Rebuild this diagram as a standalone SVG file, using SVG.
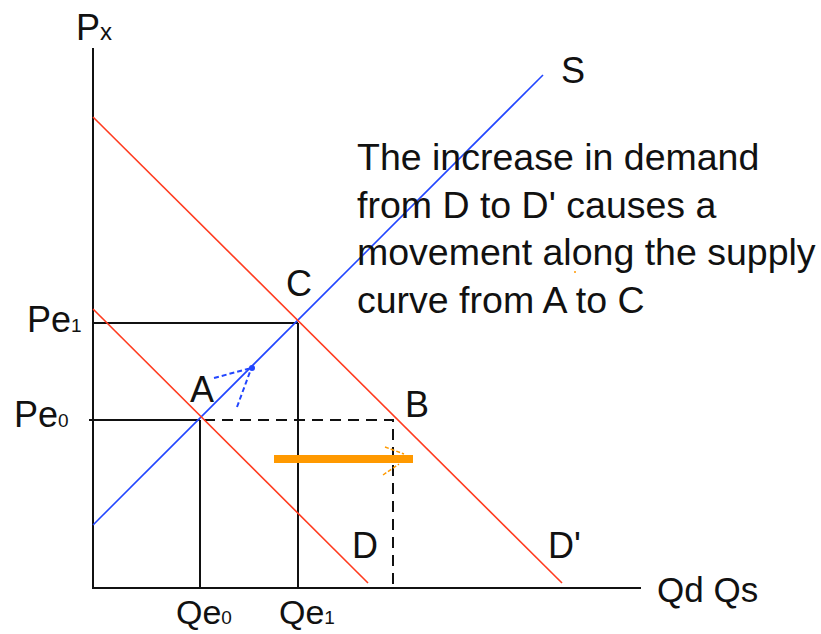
<svg xmlns="http://www.w3.org/2000/svg" width="821" height="634" viewBox="0 0 821 634">
<style>
.t{font-family:"Liberation Sans",Arial,sans-serif;fill:#111;font-size:36px}
.sub{font-size:19px}
.ax{stroke:#111;stroke-width:2;fill:none}
.dash{stroke:#111;stroke-width:2;fill:none;stroke-dasharray:11 7}
.red{stroke:#ff3b1f;stroke-width:1.6;fill:none}
.blue{stroke:#2246ff;stroke-width:1.6;fill:none}
.note{font-size:37.5px}
</style>
<rect width="821" height="634" fill="#fff"/>
<g id="axes">
<line class="ax" x1="93" y1="48" x2="93" y2="589"/>
<line class="ax" x1="92" y1="588" x2="641" y2="588"/>
<text class="t" x="76" y="40">P<tspan style="font-size:24px">x</tspan></text>
<text class="t" x="657" y="602" style="font-size:35px">Qd Qs</text>
</g>
<g id="guides">
<line class="ax" x1="93" y1="323" x2="298" y2="323"/>
<line class="ax" x1="298" y1="323" x2="298" y2="588"/>
<line class="ax" x1="89" y1="420" x2="200" y2="420"/>
<line class="ax" x1="200" y1="420" x2="200" y2="588"/>
<path class="dash" d="M204 420 H393 V588"/>
<text class="t" x="27" y="332">Pe<tspan class="sub">1</tspan></text>
<text class="t" x="14" y="427">Pe<tspan class="sub">0</tspan></text>
<text class="t" x="176" y="624" style="font-size:34px">Qe<tspan class="sub">0</tspan></text>
<text class="t" x="279" y="624" style="font-size:34px">Qe<tspan class="sub">1</tspan></text>
</g>
<g id="supply">
<line class="blue" x1="93" y1="525" x2="543" y2="75"/>
<text class="t" x="561" y="83">S</text>
</g>
<g id="demand-D">
<line class="red" x1="93" y1="309" x2="368" y2="583"/>
<text class="t" x="352" y="558">D</text>
</g>
<g id="demand-D2">
<line class="red" x1="93" y1="117" x2="562" y2="583"/>
<text class="t" x="548" y="558">D'</text>
</g>
<g id="points">
<text class="t" x="190" y="402">A</text>
<text class="t" x="286" y="296">C</text>
<text class="t" x="405" y="417">B</text>
</g>
<g id="connectors">
<g id="move-arrow" stroke="#2246ff" stroke-width="2" stroke-dasharray="5 3" fill="none">
<line x1="214" y1="378" x2="251" y2="368"/>
<line x1="237" y1="407" x2="251" y2="369"/>
</g>
<circle cx="252" cy="368" r="3" fill="#2246ff"/>
<line x1="274" y1="459" x2="413" y2="459" stroke="#ff9900" stroke-width="8"/>
<g stroke="#ff9900" stroke-width="1.5" stroke-dasharray="4 2" fill="none">
<line x1="385" y1="447" x2="404" y2="454"/>
<line x1="383" y1="475" x2="399" y2="464"/>
</g>
</g>
<g id="note">
<text class="t note" x="357" y="170">The increase in demand</text>
<text class="t note" x="357" y="218">from D to D' causes a</text>
<text class="t note" x="357" y="265">movement along the supply</text>
<text class="t note" x="357" y="313">curve from A to C</text>
<circle cx="575" cy="272" r="1" fill="#ff9900"/>
</g>
</svg>
